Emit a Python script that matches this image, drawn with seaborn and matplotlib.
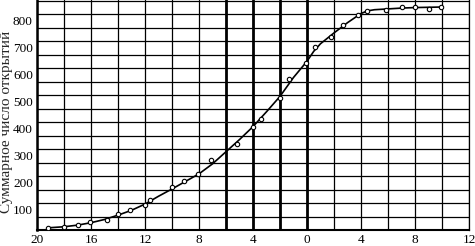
import matplotlib
matplotlib.use("Agg")
import matplotlib.pyplot as plt
import matplotlib.transforms as mtransforms
import numpy as np
import pandas as pd
import seaborn as sns

# measured points
point_x = [-19.2, -18.0, -17.0, -16.1, -14.8, -14.0, -13.1, -12.0, -11.6, -10.0,
           -9.1, -8.1, -7.1, -5.2, -4.0, -3.4, -2.0, -1.3, -0.05, 0.6,
           1.75, 2.67, 3.8, 4.47, 5.87, 7.0, 8.0, 9.0, 9.95]
point_y = [8, 12, 18, 28, 38, 60, 74, 93, 110, 160,
           181, 208, 259, 317, 383, 410, 490, 558, 620, 679,
           714, 759, 796, 812, 815, 825, 825, 818, 825]

# smooth fitted curve
curve_x = [-19.2, -18, -17, -16, -15, -14, -13, -12, -11, -10, -9, -8, -7, -6,
           -5, -4, -3, -2, -1, 0, 0.5, 1, 1.5, 2, 3, 4, 4.5, 5, 6, 7, 8, 9, 9.95]
curve_y = [8, 12, 18, 27, 39, 55, 73, 96, 125, 152, 180, 208, 245, 290,
           335, 383, 438, 495, 565, 625, 662, 690, 710, 730, 768, 802, 812, 816,
           819, 822, 824, 825, 826]

x_ticks = [-20, -16, -12, -8, -4, 0, 4, 8, 12]
x_tick_labels = ["20", "16", "12", "8", "4", "0", "4", "8", "12"]
y_ticks = [100, 200, 300, 400, 500, 600, 700, 800]
y_label = "Суммарное число открытий"

sns.set_style("white")
plt.rcParams["font.family"] = ["Liberation Serif", "DejaVu Serif"]

fig = plt.figure(figsize=(4.75, 2.46), dpi=100)
ax = fig.add_axes([37 / 475, 1 - 230 / 246, (469 - 37) / 475, 230 / 246])

# grid
for gx in np.arange(-20, 12.01, 2):
    lw = 2.0 if gx in (-6, -4, -2, 0) else 0.9
    ax.axvline(gx, color="black", lw=lw, zorder=1)
for gy in np.arange(50, 851, 50):
    ax.axhline(gy, color="black", lw=0.9, zorder=1)

curve_df = pd.DataFrame({"x": curve_x, "y": curve_y})
pts_df = pd.DataFrame({"x": point_x, "y": point_y})
sns.lineplot(data=curve_df, x="x", y="y", ax=ax, color="black", lw=1.2,
             sort=False, zorder=3)
sns.scatterplot(data=pts_df, x="x", y="y", ax=ax, marker="o", s=10,
                facecolor="white", edgecolor="black", linewidth=0.8, zorder=4)

ax.set_xlim(-20, 12)
ax.set_ylim(0, 852)
ax.set_xticks(x_ticks)
ax.set_xticklabels(x_tick_labels)
ax.set_yticks(y_ticks)
ax.set_yticklabels([str(v) for v in y_ticks])
ax.tick_params(axis="both", length=0, labelsize=9.5, colors="black", pad=3)
ax.set_xlabel("")
ax.set_ylabel(y_label, fontsize=11, labelpad=0, va="center")
ax.yaxis.set_label_coords(-0.071, 0.47)

offset = mtransforms.ScaledTranslation(0, -6 / 100, fig.dpi_scale_trans)
for lbl in ax.get_yticklabels():
    lbl.set_transform(lbl.get_transform() + offset)

for side in ("left", "bottom", "right"):
    ax.spines[side].set_visible(True)
    ax.spines[side].set_color("black")
ax.spines["left"].set_linewidth(1.8)
ax.spines["bottom"].set_linewidth(1.5)
ax.spines["right"].set_linewidth(0.9)
ax.spines["top"].set_visible(False)

fig.savefig("out.png", dpi=100)
